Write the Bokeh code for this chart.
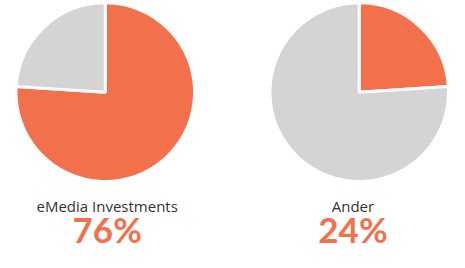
from math import pi
from bokeh.plotting import figure
from bokeh.models import Range1d
from bokeh.core.properties import value
from bokeh.embed import file_html
from bokeh.resources import INLINE

labels = ["eMedia Investments", "Ander"]
shares = [76, 24]          # percent share in orange
pct_text = ["76%", "24%"]

ORANGE = "#F2704B"
GREY = "#D4D4D4"

# figure fits inside the 465x268 window minus the 8px page margin
W, H = 449, 252
# data space is the reference frame (465 x 268), y measured upward: y = 268 - page_y
RW, RH = 465, 268
p = figure(width=W, height=H, output_backend="svg", toolbar_location=None,
           x_range=Range1d(0, RW), y_range=Range1d(0, RH), min_border=0)
p.axis.visible = False
p.grid.visible = False
p.outline_line_color = None
p.background_fill_color = "white"
p.border_fill_color = "white"

cx = [108.5, 371.5]
cy = RH - 97.5
r = 92.5

for i, s in enumerate(shares):
    frac = s / 100.0
    start = pi / 2
    end = pi / 2 - frac * 2 * pi
    p.wedge(x=[cx[i]], y=[cy], radius=r, start_angle=end, end_angle=start,
            direction="anticlock", fill_color=ORANGE, line_color="white", line_width=3)
    p.wedge(x=[cx[i]], y=[cy], radius=r, start_angle=start, end_angle=end + 2 * pi,
            direction="anticlock", fill_color=GREY, line_color="white", line_width=3)

tx = [110.5, 365]
p.text(x=tx, y=[RH - 219] * 2, text=labels, text_align="center",
       text_baseline="middle", text_font=value("Open Sans"), text_font_size="15px",
       text_color="#333333")
p.text(x=tx, y=[RH - 243.5] * 2, text=pct_text, text_align="center",
       text_baseline="middle", text_font=value("Lato"), text_font_size="35px",
       text_font_style="bold", text_color=ORANGE)

open("out.html", "w").write(file_html(p, INLINE))
